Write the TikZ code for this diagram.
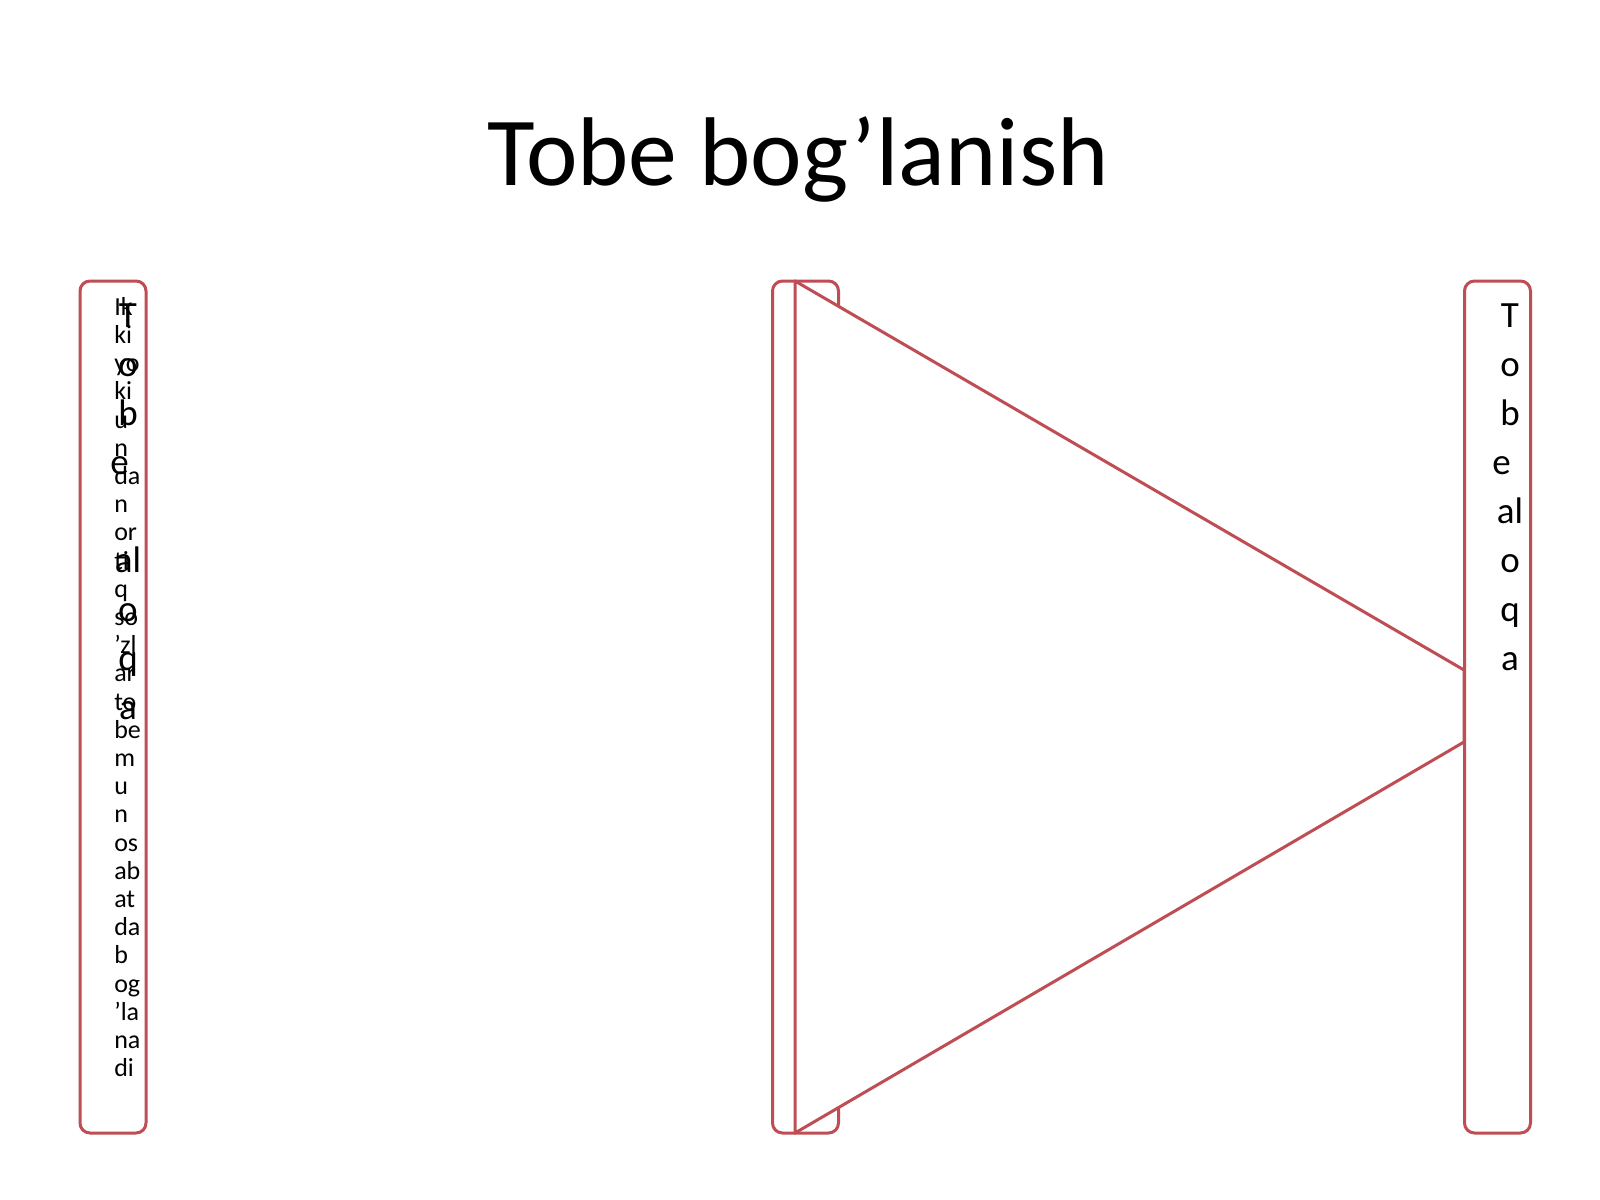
\documentclass[tikz,border=0pt]{standalone}
\usepackage{fontspec}
\setmainfont{Carlito}
\definecolor{acc}{RGB}{190,78,84}
\begin{document}
\begin{tikzpicture}[x=0.75pt,y=-0.75pt,
  box/.style={draw=acc, line width=2.25pt, fill=white, rounded corners=7.5pt,
    minimum width=49.5pt, minimum height=639pt, inner sep=0pt},
  tri/.style={draw=acc, line width=2.25pt, fill=white, line join=round},
  bigtxt/.style={font=\fontsize{27.75pt}{36.75pt}\selectfont, align=center, inner sep=0pt, anchor=north},
  smalltxt/.style={font=\fontsize{19.5pt}{21.15pt}\selectfont, align=left, inner sep=0pt, anchor=north west},
  titletxt/.style={font=\fontsize{73.2pt}{88pt}\selectfont, anchor=base, inner sep=0pt}]
\useasboundingbox[fill=white] (0,0) rectangle (1600,1200);
\node[titletxt] (title) at (798,185) {Tobe bog’lanish};
\node[box] (L) at (113,707) {};
\node[box] (M) at (805.5,707) {};
\coordinate (t1) at (795,281);
\coordinate (t2) at (1464,670);
\coordinate (t3) at (1464,742);
\coordinate (t4) at (795,1133);
\draw[tri] (t1) -- (t2) -- (t3) -- (t4) -- cycle;
\node[box] (R) at (1497.5,707) {};
\node[smalltxt] (Ls) at (114,297) {Ik\\ki\\yo\\ki\\u\\n\\da\\n\\or\\ti\\q\\so\\’zl\\ar\\to\\be\\m\\u\\n\\os\\ab\\at\\da\\b\\og\\’la\\na\\di};
\node[bigtxt] (Lt) at (128,303) {T\\o\\b\\e\kern.45em\\[36.75pt]al\\o\\q\\a};
\node[bigtxt] (Rt) at (1510,303) {T\\o\\b\\e\kern.45em\\al\\o\\q\\a};
\end{tikzpicture}
\end{document}
